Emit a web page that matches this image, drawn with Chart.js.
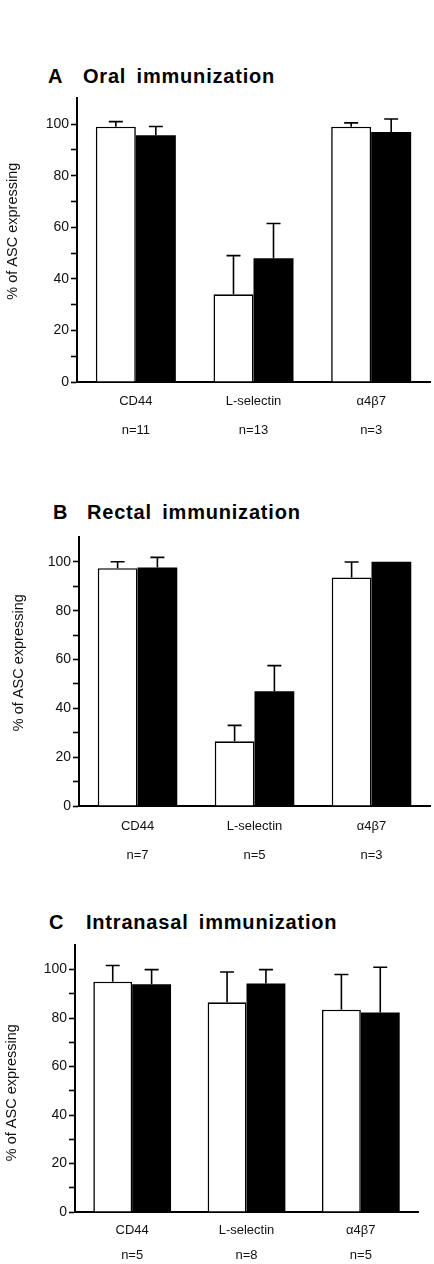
<!DOCTYPE html>
<html>
<head>
<meta charset="utf-8">
<script src="https://cdn.jsdelivr.net/npm/chart.js@4.4.1/dist/chart.umd.min.js"></script>
<style>
  body { margin: 0; background: #fff; width: 434px; height: 1264px; position: relative; overflow: hidden; }
  canvas { position: absolute; left: 0; }
  .ttl { position: absolute; font: bold 20px "Liberation Sans", Arial, sans-serif; line-height: 20px;
         letter-spacing: 0.8px; word-spacing: 4px; color: #000; white-space: nowrap; }
</style>
</head>
<body>
<div class="ttl" style="left:48px;top:66px">A</div>
<div class="ttl" style="left:83px;top:66px">Oral immunization</div>
<div class="ttl" style="left:53px;top:502px">B</div>
<div class="ttl" style="left:87px;top:502px">Rectal immunization</div>
<div class="ttl" style="left:49px;top:912px">C</div>
<div class="ttl" style="left:86px;top:912px">Intranasal immunization</div>

<canvas id="chartA"></canvas>
<canvas id="chartB"></canvas>
<canvas id="chartC"></canvas>

<script>
// molecules on the x axis
const categories = ['CD44', 'L-selectin', 'α4β7'];
const yTitle = '% of ASC expressing';

// A - oral immunization
const oralN = ['n=11', 'n=13', 'n=3'];
const oralOpen = [99, 34, 99];
const oralOpenErr = [2, 15, 1.5];
const oralFilled = [95.7, 48, 97];
const oralFilledErr = [3.4, 13.5, 5];

// B - rectal immunization
const rectalN = ['n=7', 'n=5', 'n=3'];
const rectalOpen = [97.4, 26.5, 93.6];
const rectalOpenErr = [2.6, 6.5, 6.3];
const rectalFilled = [97.7, 47, 100];
const rectalFilledErr = [4.1, 10.5, 0];

// C - intranasal immunization
const nasalN = ['n=5', 'n=8', 'n=5'];
const nasalOpen = [95, 86.5, 83.5];
const nasalOpenErr = [6.7, 12.5, 14.5];
const nasalFilled = [94, 94.3, 82.3];
const nasalFilledErr = [6, 5.7, 18.7];

// one sided error bars (mean + SD) with a cap
const errorBars = {
    id: 'errorBars',
    afterDatasetsDraw(chart) {
        const ctx = chart.ctx;
        const y = chart.scales.y;
        ctx.save();
        ctx.strokeStyle = '#000';
        ctx.lineWidth = 1.6;
        chart.data.datasets.forEach((ds, i) => {
            chart.getDatasetMeta(i).data.forEach((bar, j) => {
                const err = ds.errors[j];
                if (!err) return;
                const top = y.getPixelForValue(ds.data[j] + err);
                ctx.beginPath();
                ctx.moveTo(bar.x, bar.y);
                ctx.lineTo(bar.x, top);
                ctx.moveTo(bar.x - 7, top);
                ctx.lineTo(bar.x + 7, top);
                ctx.stroke();
            });
        });
        ctx.restore();
    }
};

// rotated y axis title, placed a bit off centre like in the scan
const yAxisTitle = {
    id: 'yAxisTitle',
    afterDraw(chart, args, opts) {
        const { ctx, chartArea } = chart;
        ctx.save();
        ctx.translate(opts.x, (chartArea.top + chartArea.bottom) / 2 + opts.dy);
        ctx.rotate(-Math.PI / 2);
        ctx.font = '14.5px "Liberation Sans"';
        ctx.fillStyle = '#111';
        ctx.textAlign = 'center';
        ctx.textBaseline = 'middle';
        ctx.fillText(opts.text, 0, 0);
        ctx.restore();
    }
};

function makePanel(id, g, nLabels, open, openErr, filled, filledErr) {
    const canvas = document.getElementById(id);
    canvas.style.top = g.top + 'px';
    canvas.width = 434;
    canvas.height = g.height;
    canvas.style.width = '434px';
    canvas.style.height = g.height + 'px';

    const labels = categories.map((c, i) => [c, nLabels[i]]);

    return new Chart(canvas.getContext('2d'), {
        type: 'bar',
        data: {
            labels: labels,
            datasets: [{
                data: open,
                errors: openErr,
                backgroundColor: '#fff',
                borderColor: '#000',
                borderWidth: 1.6
            }, {
                data: filled,
                errors: filledErr,
                backgroundColor: '#000',
                borderColor: '#000',
                borderWidth: 0
            }]
        },
        options: {
            responsive: false,
            animation: false,
            layout: { padding: { top: 10, right: 434 - g.right, bottom: 0, left: 0 } },
            datasets: { bar: { barPercentage: 1, categoryPercentage: 0.68 } },
            plugins: {
                legend: { display: false },
                tooltip: { enabled: false },
                yAxisTitle: { text: yTitle, x: g.titleX, dy: g.titleDy }
            },
            scales: {
                x: {
                    grid: { display: false, drawTicks: false },
                    border: { display: true, color: '#000', width: 2 },
                    ticks: {
                        color: '#111',
                        padding: g.xPad,
                        maxRotation: 0,
                        font: { family: 'Liberation Sans', size: 13, lineHeight: g.xLine }
                    },
                    afterFit: (s) => { s.height = 60; }
                },
                y: {
                    min: 0,
                    max: 110,
                    grid: {
                        drawOnChartArea: false,
                        drawTicks: true,
                        tickLength: 6,
                        tickWidth: 1.6,
                        tickColor: (c) => (c.tick && c.tick.value > 100 ? 'rgba(0,0,0,0)' : '#000')
                    },
                    border: { display: true, color: '#000', width: 2 },
                    ticks: {
                        stepSize: 10,
                        padding: 2,
                        color: '#111',
                        font: { family: 'Liberation Sans', size: 14 },
                        callback: (v) => (v % 20 === 0 && v <= 100 ? v : '')
                    },
                    afterFit: (s) => { s.width = g.left; }
                }
            }
        },
        plugins: [errorBars, yAxisTitle]
    });
}

makePanel('chartA', { top: 88, height: 354, left: 77, right: 430, xPad: 4.4, xLine: 2.25, titleX: 13, titleDy: -9 },
    oralN, oralOpen, oralOpenErr, oralFilled, oralFilledErr);
makePanel('chartB', { top: 527, height: 339, left: 79, right: 430, xPad: 5.5, xLine: 2.23, titleX: 19, titleDy: -9 },
    rectalN, rectalOpen, rectalOpenErr, rectalFilled, rectalFilledErr);
makePanel('chartC', { top: 935, height: 337, left: 75, right: 418, xPad: 5.8, xLine: 1.92, titleX: 12, titleDy: 14 },
    nasalN, nasalOpen, nasalOpenErr, nasalFilled, nasalFilledErr);
</script>
</body>
</html>
